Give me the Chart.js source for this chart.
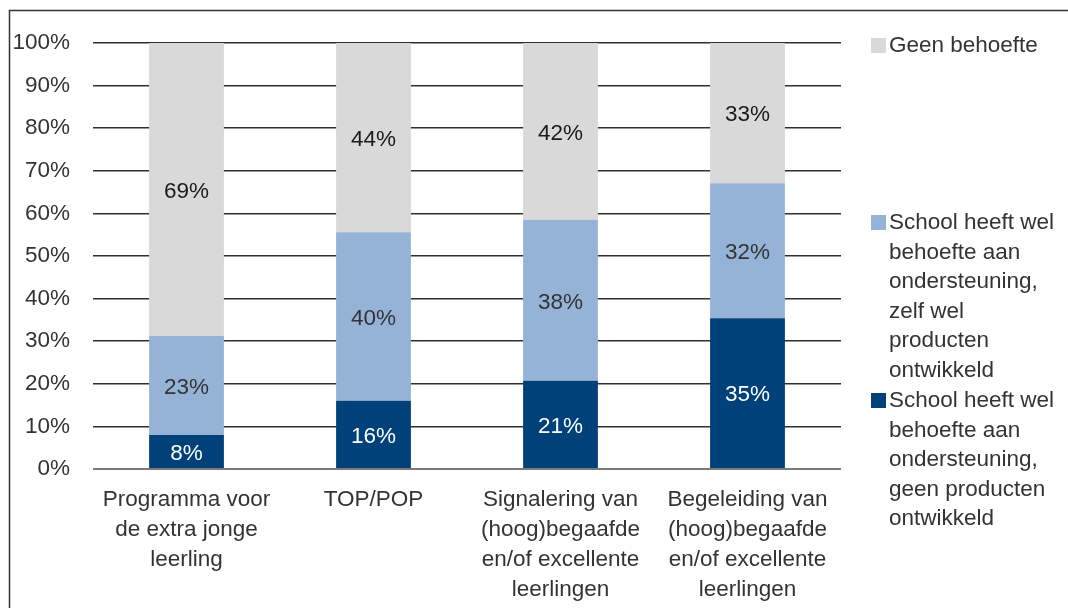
<!DOCTYPE html>
<html>
<head>
<meta charset="utf-8">
<script src="https://cdn.jsdelivr.net/npm/chart.js@4"></script>
<style>
  html, body { margin: 0; padding: 0; background: #fff; }
  #wrap { width: 1068px; height: 608px; position: relative; }
</style>
</head>
<body>
<div id="wrap"><canvas id="myChart" width="1068" height="608"></canvas></div>
<script>
// categories (multi-line x labels)
const categories = [
  ['Programma voor', 'de extra jonge', 'leerling'],
  ['TOP/POP'],
  ['Signalering van', '(hoog)begaafde', 'en/of excellente', 'leerlingen'],
  ['Begeleiding van', '(hoog)begaafde', 'en/of excellente', 'leerlingen']
];

// series, bottom to top
const geenProducten = [8.0, 16.0, 20.7, 35.4];
const zelfProducten = [23.2, 39.6, 37.8, 31.7];
const geenBehoefte = [68.8, 44.4, 41.5, 32.9];

const seriesNames = [
  'School heeft wel behoefte aan ondersteuning, geen producten ontwikkeld',
  'School heeft wel behoefte aan ondersteuning, zelf wel producten ontwikkeld',
  'Geen behoefte'
];

// legend text, top to bottom as in the picture
const legendLines = [
  ['Geen behoefte'],
  ['School heeft wel', 'behoefte aan', 'ondersteuning,', 'zelf wel', 'producten', 'ontwikkeld'],
  ['School heeft wel', 'behoefte aan', 'ondersteuning,', 'geen producten', 'ontwikkeld']
];

const FONT = '"Liberation Sans", Arial, sans-serif';
const FS = 22.5;
const colors = ['#00417A', '#95B3D7', '#D9D9D9'];
const labelColors = ['#ffffff', '#333333', '#1a1a1a'];

const barLabels = {
  id: 'barLabels',
  afterDatasetsDraw(chart) {
    const ctx = chart.ctx;
    ctx.save();
    ctx.font = FS + 'px ' + FONT;
    ctx.textAlign = 'center';
    ctx.textBaseline = 'middle';
    chart.data.datasets.forEach((ds, i) => {
      const meta = chart.getDatasetMeta(i);
      meta.data.forEach((bar, j) => {
        ctx.fillStyle = labelColors[i];
        ctx.fillText(Math.round(ds.data[j]) + '%', bar.x, (bar.y + bar.base) / 2 + 2);
      });
    });
    ctx.restore();
  }
};

const sideLegend = {
  id: 'sideLegend',
  afterDraw(chart) {
    const ctx = chart.ctx;
    ctx.save();
    // frame
    ctx.strokeStyle = '#333333';
    ctx.lineWidth = 1.5;
    ctx.beginPath();
    ctx.moveTo(9.5, 608);
    ctx.lineTo(9.5, 10.5);
    ctx.lineTo(1068, 10.5);
    ctx.stroke();

    const starts = [45, 222, 400];
    const order = [2, 1, 0];
    ctx.font = FS + 'px ' + FONT;
    ctx.textAlign = 'left';
    ctx.textBaseline = 'middle';
    legendLines.forEach((lines, k) => {
      const y0 = starts[k];
      ctx.fillStyle = colors[order[k]];
      ctx.fillRect(871, y0 - 7, 15, 15);
      ctx.fillStyle = '#333333';
      lines.forEach((t, n) => {
        ctx.fillText(t, 889, y0 + 1 + n * 29.5);
      });
    });
    ctx.restore();
  }
};

window.onload = function () {
  const ctx = document.getElementById('myChart');
  window.myChart = new Chart(ctx, {
    type: 'bar',
    data: {
      labels: categories,
      datasets: [
        { label: seriesNames[0], data: geenProducten, backgroundColor: colors[0] },
        { label: seriesNames[1], data: zelfProducten, backgroundColor: colors[1] },
        { label: seriesNames[2], data: geenBehoefte, backgroundColor: colors[2] }
      ]
    },
    options: {
      responsive: false,
      animation: false,
      layout: { padding: { left: 0, right: 227, top: 43, bottom: 0 } },
      plugins: {
        legend: { display: false },
        tooltip: { enabled: false }
      },
      datasets: {
        bar: { barPercentage: 0.4, categoryPercentage: 1.0 }
      },
      scales: {
        x: {
          stacked: true,
          grid: { display: false, drawTicks: false },
          border: { display: false },
          ticks: {
            color: '#333333',
            padding: 16,
            maxRotation: 0,
            autoSkip: false,
            font: { family: FONT, size: FS, lineHeight: 1.33 }
          },
          afterFit(scale) { scale.height = 139; }
        },
        y: {
          stacked: true,
          min: 0,
          max: 100,
          grid: {
            drawTicks: false,
            color: (c) => c.tick && c.tick.value === 0 ? '#7a7a7a' : '#2e2e2e',
            lineWidth: (c) => c.tick && c.tick.value === 0 ? 2 : 1.6
          },
          border: { display: false },
          ticks: {
            stepSize: 10,
            color: '#333333',
            padding: 23,
            font: { family: FONT, size: FS },
            callback: (v) => v + '%'
          },
          afterFit(scale) { scale.width = 93; }
        }
      }
    },
    plugins: [barLabels, sideLegend]
  });
};
</script>
</body>
</html>
